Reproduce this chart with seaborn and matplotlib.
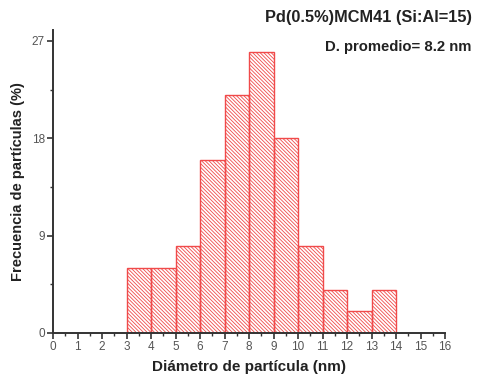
import numpy as np
import pandas as pd
import matplotlib
matplotlib.use("Agg")
import matplotlib.pyplot as plt
from matplotlib.ticker import MultipleLocator
import seaborn as sns

# Particle size distribution (bin edges in nm, frequency in %)
bin_left = [3, 4, 5, 6, 7, 8, 9, 10, 11, 12, 13]
frequency = [6, 6, 8, 16, 22, 26, 18, 8, 4, 2, 4]
bin_width = 1
title_text = "Pd(0.5%)MCM41 (Si:Al=15)"
mean_text = "D. promedio= 8.2 nm"

sns.set_style("ticks")
plt.rcParams["font.family"] = ["Liberation Sans", "DejaVu Sans"]
plt.rcParams["hatch.linewidth"] = 0.6

df = pd.DataFrame({"d": np.array(bin_left) + bin_width / 2, "f": frequency})
edges = list(bin_left) + [bin_left[-1] + bin_width]

fig = plt.figure(figsize=(4.79, 3.8), dpi=100)
ax = fig.add_axes([0.111, 0.124, 0.818, 0.797])

red = "#f04a4a"
hatch = "\\" * 9
sns.histplot(data=df, x="d", weights="f", bins=edges, ax=ax,
             fill=False, color=red, edgecolor=red, linewidth=1.0,
             hatch=hatch, alpha=1)
for p in ax.patches:
    p.set_hatch(hatch)
    p.set_edgecolor(red)
    p.set_facecolor("none")
    p.set_fill(False)

ax.set_xlim(0, 16)
ax.set_ylim(0, 28)
ax.xaxis.set_major_locator(MultipleLocator(1))
ax.xaxis.set_minor_locator(MultipleLocator(0.5))
ax.yaxis.set_major_locator(MultipleLocator(9))
ax.yaxis.set_minor_locator(MultipleLocator(4.5))

sns.despine(ax=ax)
for s in ("left", "bottom"):
    ax.spines[s].set_color("#333333")
    ax.spines[s].set_linewidth(1.4)

ax.tick_params(axis="both", which="major", direction="out", length=4,
               width=1.2, color="#333333", labelsize=8.5, labelcolor="#555555", pad=2)
ax.tick_params(axis="both", which="minor", direction="out", length=2.5,
               width=1.0, color="#333333")

ax.set_xlabel("Diámetro de partícula (nm)", fontsize=11, fontweight="bold",
              color="#222222", labelpad=5)
ax.set_ylabel("Frecuencia de partículas (%)", fontsize=10.5, fontweight="bold",
              color="#222222", labelpad=5)

fig.text(0.986, 0.953, title_text, ha="right", va="center", fontsize=11.8,
         fontweight="bold", color="#222222")
fig.text(0.985, 0.875, mean_text, ha="right", va="center", fontsize=10.7,
         fontweight="bold", color="#222222")

fig.savefig("out.png", dpi=100)
